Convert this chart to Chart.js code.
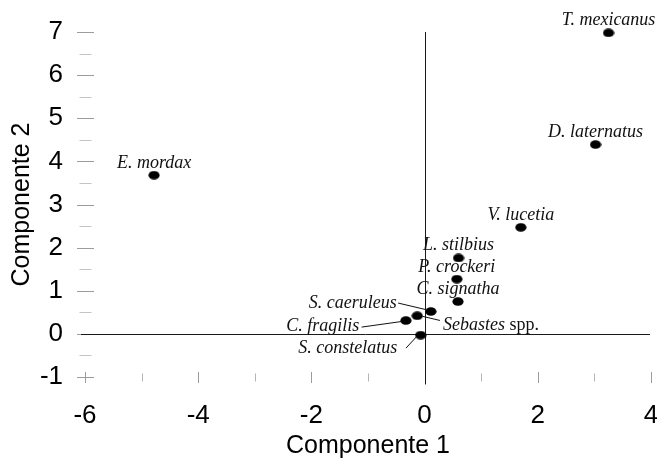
<!DOCTYPE html>
<html lang="es">
<head>
<meta charset="UTF-8">
<title>Componentes</title>
<script src="https://cdn.jsdelivr.net/npm/chart.js@4.4.0/dist/chart.umd.min.js"></script>
<style>
  html, body { margin: 0; padding: 0; background: #fff; }
  canvas { display: block; }
</style>
</head>
<body>
<canvas id="pca" width="657" height="464"></canvas>
<script>
  // species scores on the first two components
  var species = ["T. mexicanus", "D. laternatus", "V. lucetia", "E. mordax", "L. stilbius", "P. crockeri",
                 "C. signatha", "S. caeruleus", "Sebastes spp.", "C. fragilis", "S. constelatus"];
  var comp1 = [3.25, 3.02, 1.70, -4.78, 0.60, 0.57, 0.59, 0.11, -0.13, -0.33, -0.07];
  var comp2 = [6.98, 4.39, 2.47, 3.68, 1.76, 1.27, 0.75, 0.52, 0.42, 0.31, -0.03];
  var xTicks = [-6, -4, -2, 0, 2, 4];
  var yTicks = [-1, 0, 1, 2, 3, 4, 5, 6, 7];

  // names in the crowded corner sit off to the side with a leader line (px from the dot)
  var labelPos = {
    "S. caeruleus":   { dx: -34,   dy: -3.5, align: "right", lead: [-32.7, -8.4, -4.3, -1.7] },
    "Sebastes spp.":  { dx: 25.7,  dy: 14,   align: "left",  lead: [22.7, 4.7, 5, 0.5] },
    "C. fragilis":    { dx: -46.7, dy: 10,   align: "right", lead: [-44.3, 6.6, -4.3, 1] },
    "S. constelatus": { dx: -23.4, dy: 18,   align: "right", lead: [-14.7, 13, -4, 1.4] }
  };

  var sans = "'Liberation Sans', Arial, sans-serif";
  var serif = "'Liberation Serif', 'Times New Roman', serif";

  // slightly flattened black dot
  var dot = document.createElement("canvas");
  dot.width = 12; dot.height = 9;
  var dctx = dot.getContext("2d");
  dctx.fillStyle = "#000";
  dctx.beginPath();
  dctx.ellipse(6, 4.5, 5.6, 4.3, 0, 0, Math.PI * 2);
  dctx.fill();

  var points = comp1.map(function (x, i) { return { x: x, y: comp2[i] }; });

  function line(ctx, x1, y1, x2, y2) {
    ctx.beginPath(); ctx.moveTo(x1, y1); ctx.lineTo(x2, y2); ctx.stroke();
  }

  function noPad(s) {
    s.paddingLeft = 0; s.paddingRight = 0; s.paddingTop = 0; s.paddingBottom = 0;
  }

  var decor = {
    id: "decor",
    beforeDatasetsDraw: function (chart) {
      var ctx = chart.ctx, xs = chart.scales.x, ys = chart.scales.y;
      var x0 = Math.round(xs.getPixelForValue(-6)) + 0.5;
      var yb = Math.round(ys.getPixelForValue(-1)) + 0.5;
      ctx.save();
      ctx.lineWidth = 1;
      // tick marks on the y axis (half units), centred on x = -6
      for (var v = -1; v <= 7; v += 0.5) {
        var major = v % 1 === 0;
        var py = Math.round(ys.getPixelForValue(v)) + 0.5;
        var h = major ? 8.5 : 6;
        ctx.strokeStyle = major ? "#9c9c9c" : "#c4c4c4";
        line(ctx, x0 - h, py, x0 + h, py);
      }
      // tick marks on the x axis, centred on y = -1
      for (var u = -6; u <= 4; u++) {
        var big = u % 2 === 0;
        var px = Math.round(xs.getPixelForValue(u)) + 0.5;
        var k = big ? 5.5 : 4;
        ctx.strokeStyle = big ? "#9c9c9c" : "#b4b4b4";
        line(ctx, px, yb - k, px, yb + k);
      }
      // the zero lines
      ctx.strokeStyle = "#1a1a1a";
      var zy = Math.round(ys.getPixelForValue(0)) + 0.5;
      var zx = Math.round(xs.getPixelForValue(0)) + 0.5;
      line(ctx, x0 - 4.5, zy, xs.getPixelForValue(4) - 1, zy);
      line(ctx, zx, ys.getPixelForValue(7), zx, yb + 7);
      ctx.restore();
    },
    afterDatasetsDraw: function (chart) {
      var ctx = chart.ctx;
      var els = chart.getDatasetMeta(0).data;
      ctx.save();
      ctx.fillStyle = "#111";
      ctx.strokeStyle = "#111";
      ctx.lineWidth = 1;
      ctx.textBaseline = "alphabetic";
      var italic = "italic 18px " + serif;
      var plain = "18px " + serif;
      species.forEach(function (name, i) {
        var p = els[i];
        var o = labelPos[name] || { dx: 0, dy: -7.5, align: "center" };
        var tx = p.x + o.dx, ty = p.y + o.dy;
        if (o.lead) line(ctx, p.x + o.lead[0], p.y + o.lead[1], p.x + o.lead[2], p.y + o.lead[3]);
        if (/ spp\.$/.test(name)) {
          var genus = name.replace(/ spp\.$/, "");
          ctx.font = italic;
          var w = ctx.measureText(genus).width;
          ctx.textAlign = "left";
          ctx.fillText(genus, tx, ty);
          ctx.font = plain;
          ctx.fillText(" spp.", tx + w, ty);
        } else {
          ctx.font = italic;
          ctx.textAlign = o.align;
          ctx.fillText(name, tx, ty);
        }
      });
      ctx.restore();
    }
  };

  new Chart(document.getElementById("pca").getContext("2d"), {
    type: "scatter",
    data: {
      datasets: [{
        label: "especies",
        data: points,
        pointStyle: dot,
        pointRadius: 5,
        pointHoverRadius: 5,
        clip: false
      }]
    },
    options: {
      responsive: false,
      animation: false,
      layout: { padding: { top: 32, right: 6, left: 0, bottom: 0 } },
      plugins: { legend: { display: false }, tooltip: { enabled: false } },
      scales: {
        x: {
          type: "linear",
          min: -6, max: 4,
          afterBuildTicks: function (s) { s.ticks = xTicks.map(function (v) { return { value: v }; }); },
          afterFit: function (s) { s.height = 87; noPad(s); },
          grid: { display: false, drawTicks: false },
          border: { display: false },
          ticks: { color: "#000", padding: 23, font: { family: sans, size: 26 } },
          title: { display: true, text: "Componente 1", color: "#000", padding: { top: 0, bottom: 3 },
                   font: { family: sans, size: 25 } }
        },
        y: {
          type: "linear",
          min: -1, max: 7,
          afterBuildTicks: function (s) { s.ticks = yTicks.map(function (v) { return { value: v }; }); },
          afterFit: function (s) { s.width = 85; noPad(s); },
          grid: { display: false, drawTicks: false },
          border: { display: false },
          ticks: { color: "#000", padding: 22, font: { family: sans, size: 26 } },
          title: { display: true, text: "Componente 2", color: "#000", padding: { top: 7, bottom: 0 },
                   font: { family: sans, size: 25 } }
        }
      }
    },
    plugins: [decor]
  });
</script>
</body>
</html>
